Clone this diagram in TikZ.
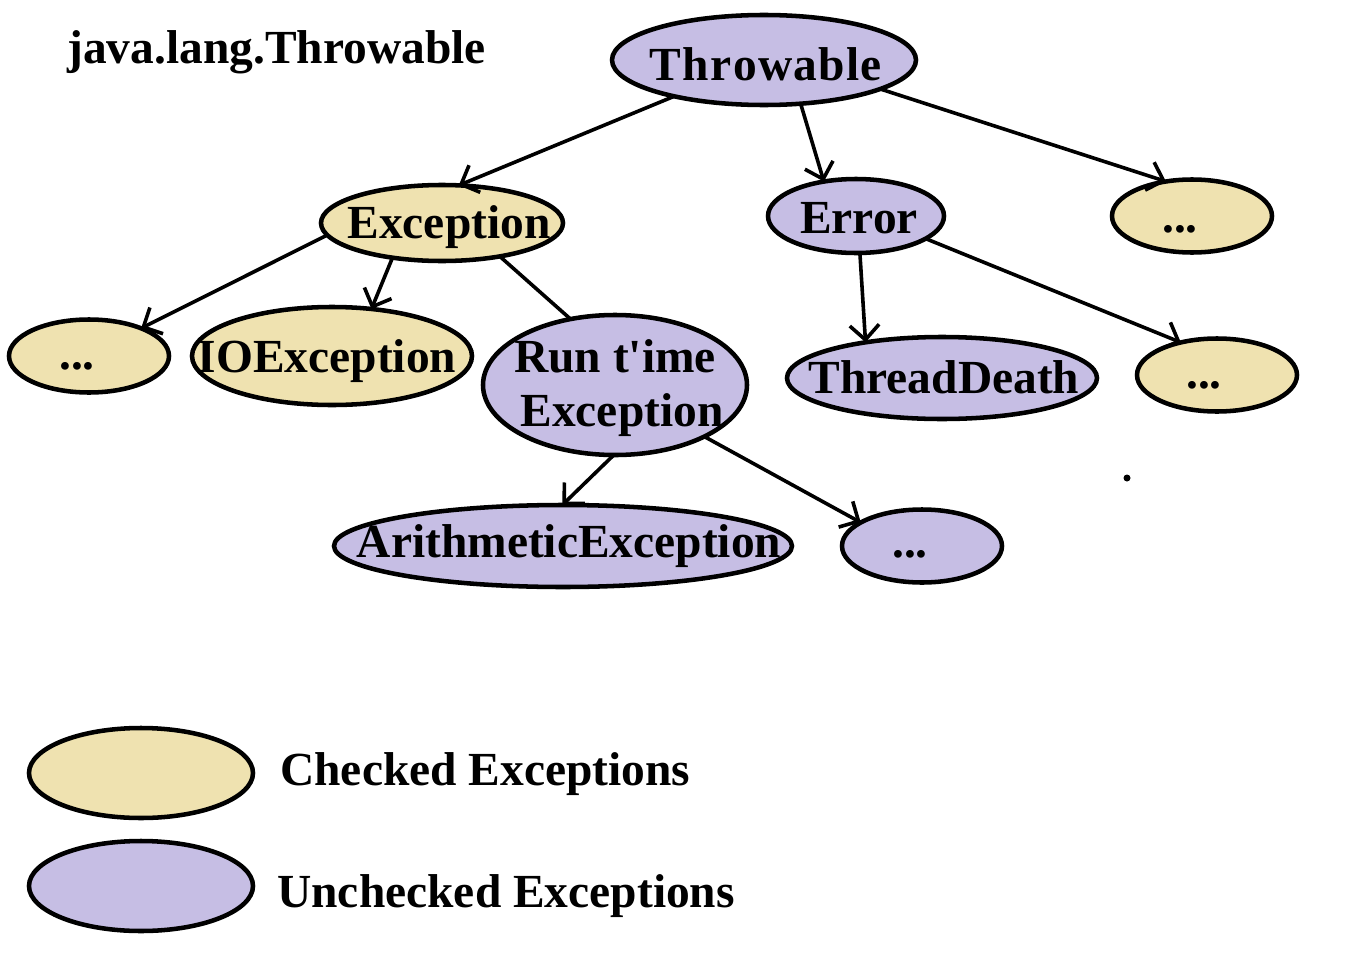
\documentclass[tikz,border=0pt]{standalone}
\usepackage{fontspec}
\setmainfont{Liberation Serif}
\usetikzlibrary{arrows.meta,shapes.geometric}
\definecolor{chk}{RGB}{239,226,176}
\definecolor{unchk}{RGB}{198,190,228}
\tikzset{
  el/.style 2 args={ellipse, draw=black, line width=3.4pt, inner sep=0pt, outer sep=0pt,
     minimum width=#1*0.75pt, minimum height=#2*0.75pt},
  chkel/.style={fill=chk},
  unchkel/.style={fill=unchk},
  lbl/.style={font=\fontsize{35.6}{40}\selectfont\bfseries, anchor=base, inner sep=0pt},
  conn/.style={line width=2.7pt, -{Straight Barb[length=11pt,width=22pt,line width=2.7pt]}},
  plain/.style={line width=2.7pt}
}
\begin{document}
\begin{tikzpicture}[x=0.75pt,y=-0.75pt]
\useasboundingbox (0,0) rectangle (1360,960);
% ellipses
\node[el={304}{90},unchkel] (thr) at (764,60) {};
\node[el={242}{76},chkel] (exc) at (442,223) {};
\node[el={176}{74},unchkel] (err) at (856,216) {};
\node[el={160}{73},chkel] (dtr) at (1192,216) {};
\node[el={160}{73},chkel] (dl) at (89,356) {};
\node[el={280}{98},chkel] (ioe) at (332,356) {};
\node[el={264}{140},unchkel] (rte) at (615,385) {};
\node[el={310}{82},unchkel] (td) at (942,378) {};
\node[el={160}{73},chkel] (dr) at (1217,375) {};
\node[el={458}{82},unchkel] (ari) at (563,546) {};
\node[el={160}{73},unchkel] (db) at (922,546) {};
\node[el={224}{90},chkel] (lgc) at (141,773) {};
\node[el={224}{90},unchkel] (lgu) at (141,886) {};
% labels
\node[lbl] (tthr) at (766,80) {T\kern1pt h\kern1pt r\kern1pt o\kern1pt w\kern1pt a\kern1pt b\kern1pt l\kern1pt e};
\node[lbl] (texc) at (449,238) {Exception};
\node[lbl] (terr) at (859,233) {Error};
\node[lbl] (tdtr) at (1180,232) {...};
\node[lbl] (tdl) at (77,369) {...};
\node[lbl] (tioe) at (327,372) {IOException};
\node[lbl] (trte1) at (615,372) {Run t\textquotesingle ime};
\node[lbl] (trte2) at (622,426) {Exception};
\node[lbl] (ttd) at (944,393) {ThreadDeath};
\node[lbl] (tdr) at (1204,388) {...};
\node[lbl] (tari) at (569,557) {ArithmeticException};
\node[lbl] (tdb) at (910,557) {...};
\node[lbl,anchor=base west] (tjava) at (67,63) {java.lang.Throwable};
\node[lbl,anchor=base west] (tlgc) at (280,785) {Checked Exceptions};
\node[lbl,anchor=base west] (tlgu) at (277,907) {Unchecked Exceptions};
% stray dot
\fill (1127,478) circle (3.5);
% connectors
\draw[conn] (thr.202) -- (exc.66);
\draw[conn] (thr.310) -- (err.133);
\draw[conn] (thr.346) -- (dtr.127);
\draw[conn] (exc.186) -- (dl.28);
\draw[conn] (exc.215) -- (ioe.50);
\draw[plain] (exc.330) -- (rte.124);
\draw[conn] (err.276) -- (td.155);
\draw[conn] (err.342) -- (dr.138);
\draw[conn] (rte.269) -- (ari.91);
\draw[conn] (rte.330) -- (db.159);
\end{tikzpicture}
\end{document}
